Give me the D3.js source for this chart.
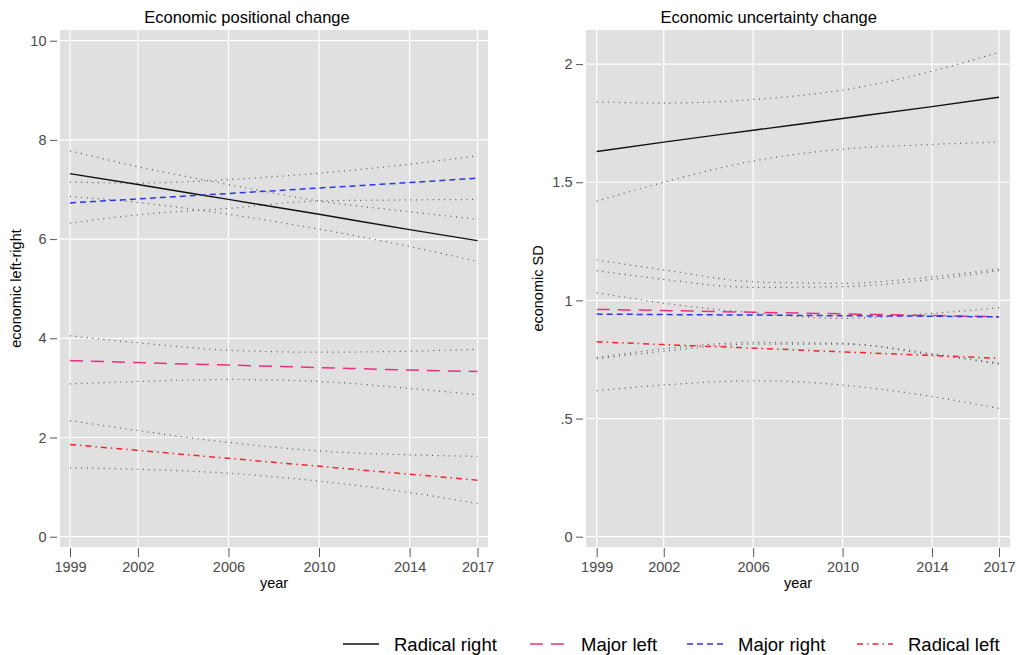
<!DOCTYPE html>
<html>
<head>
<meta charset="utf-8">
<script src="https://cdn.jsdelivr.net/npm/d3@7/dist/d3.min.js"></script>
<style>
  body { margin: 0; background: #fff; }
  svg text { font-family: "Liberation Sans", Arial, Helvetica, sans-serif; }
</style>
</head>
<body>
<script>
// survey years (x) and tick labels
var years = [1999, 2002, 2006, 2010, 2014, 2017];
var xTicks = [1999, 2002, 2006, 2010, 2014, 2017];

// left panel: economic left-right position, fit + CI bounds
var posRadRight   = [7.32, 7.10, 6.80, 6.50, 6.19, 5.97];
var posRadRightHi = [7.78, 7.46, 7.10, 6.77, 6.55, 6.40];
var posRadRightLo = [6.86, 6.74, 6.50, 6.20, 5.85, 5.55];
var posMajLeft    = [3.55, 3.51, 3.46, 3.41, 3.36, 3.33];
var posMajLeftHi  = [4.05, 3.91, 3.76, 3.72, 3.74, 3.78];
var posMajLeftLo  = [3.08, 3.13, 3.17, 3.13, 2.99, 2.86];
var posMajRight   = [6.73, 6.81, 6.92, 7.03, 7.14, 7.23];
var posMajRightHi = [7.15, 7.13, 7.20, 7.33, 7.51, 7.68];
var posMajRightLo = [6.32, 6.49, 6.62, 6.77, 6.79, 6.80];
var posRadLeft    = [1.86, 1.74, 1.58, 1.42, 1.26, 1.14];
var posRadLeftHi  = [2.34, 2.14, 1.90, 1.73, 1.65, 1.62];
var posRadLeftLo  = [1.39, 1.36, 1.28, 1.12, 0.89, 0.67];
var posTicks = [0, 2, 4, 6, 8, 10];

// right panel: economic SD, fit + CI bounds
var sdRadRight   = [1.63, 1.67, 1.72, 1.77, 1.82, 1.86];
var sdRadRightHi = [1.84, 1.835, 1.85, 1.89, 1.97, 2.05];
var sdRadRightLo = [1.42, 1.50, 1.59, 1.64, 1.66, 1.67];
var sdMajLeft    = [0.962, 0.957, 0.950, 0.943, 0.936, 0.931];
var sdMajLeftHi  = [1.171, 1.129, 1.079, 1.072, 1.100, 1.133];
var sdMajLeftLo  = [0.753, 0.785, 0.815, 0.815, 0.775, 0.730];
var sdMajRight   = [0.942, 0.940, 0.938, 0.935, 0.933, 0.930];
var sdMajRightHi = [1.126, 1.089, 1.055, 1.058, 1.089, 1.126];
var sdMajRightLo = [0.758, 0.795, 0.822, 0.818, 0.770, 0.735];
var sdRadLeft    = [0.825, 0.813, 0.798, 0.782, 0.767, 0.755];
var sdRadLeftHi  = [1.033, 0.988, 0.948, 0.924, 0.945, 0.969];
var sdRadLeftLo  = [0.618, 0.642, 0.660, 0.642, 0.593, 0.543];
var sdTicks = [0, 0.5, 1, 1.5, 2];
var sdTickLabels = ["0", ".5", "1", "1.5", "2"];

var groups = ["Radical right", "Major left", "Major right", "Radical left"];

var styles = {
    "Radical right": {color: "#111111", dash: null, width: 1.4},
    "Major left":    {color: "#ec2f7d", dash: "13,8", width: 1.5},
    "Major right":   {color: "#2c36e6", dash: "6,4", width: 1.5},
    "Radical left":  {color: "#ee2730", dash: "6,4,1.5,4", width: 1.5}
};

var W = 1016, H = 655;
var svg = d3.select("body").append("svg")
    .attr("width", W)
    .attr("height", H);

function translate(x, y) {
    return "translate(" + x + "," + y + ")";
}

function drawPanel(p) {
    var x = d3.scaleLinear().domain([1999, 2017]).range([p.x1999, p.x2017]);
    var y = d3.scaleLinear().domain(p.yDomain).range(p.yRange);
    var g = svg.append("g");

    g.append("rect")
        .attr("x", p.left).attr("y", p.top)
        .attr("width", p.right - p.left).attr("height", p.bottom - p.top)
        .attr("fill", "#e0e0e0");

    // grid
    g.selectAll("line.vgrid").data(xTicks).enter().append("line")
        .attr("x1", function(d) { return x(d); })
        .attr("x2", function(d) { return x(d); })
        .attr("y1", p.top).attr("y2", p.bottom)
        .attr("stroke", "#fff").attr("stroke-width", 1.2);
    g.selectAll("line.hgrid").data(p.yTicks).enter().append("line")
        .attr("y1", function(d) { return y(d); })
        .attr("y2", function(d) { return y(d); })
        .attr("x1", p.left).attr("x2", p.right)
        .attr("stroke", "#fff").attr("stroke-width", 1.2);

    // axes
    var yAxis = d3.axisLeft(y).tickValues(p.yTicks).tickSize(7).tickSizeOuter(0).tickPadding(3.5)
        .tickFormat(function(d, i) { return p.yLabels[i]; });
    var ya = g.append("g").attr("transform", translate(p.left - 3, 0)).call(yAxis);
    ya.select(".domain").remove();

    var xAxis = d3.axisBottom(x).tickValues(xTicks).tickSize(9).tickSizeOuter(0).tickPadding(4.3)
        .tickFormat(d3.format("d"));
    var xa = g.append("g").attr("transform", translate(0, p.bottom + 1)).call(xAxis);
    xa.select(".domain").remove();

    [ya, xa].forEach(function(a) {
        a.selectAll("line").attr("stroke", "#555").attr("stroke-width", 1);
        a.selectAll("text").attr("fill", "#4a4a4a").style("font-size", "14.5px");
    });

    var line = d3.line()
        .x(function(d, i) { return x(years[i]); })
        .y(function(d) { return y(d); })
        .curve(d3.curveMonotoneX);

    // CI bands as dotted lines
    p.ci.forEach(function(s) {
        g.append("path")
            .attr("d", line(s))
            .attr("fill", "none")
            .attr("stroke", "#505050")
            .attr("stroke-width", 1.2)
            .attr("stroke-dasharray", "1,4.6");
    });

    p.fits.forEach(function(f) {
        var st = styles[f.name];
        g.append("path")
            .attr("d", line(f.values))
            .attr("fill", "none")
            .attr("stroke", st.color)
            .attr("stroke-width", st.width)
            .attr("stroke-dasharray", st.dash);
    });

    g.append("text")
        .attr("x", p.titleX).attr("y", 22.5)
        .attr("text-anchor", "middle")
        .style("font-size", "16.5px")
        .attr("fill", "#000")
        .text(p.title);

    g.append("text")
        .attr("x", (p.left + p.right) / 2).attr("y", 588)
        .attr("text-anchor", "middle")
        .style("font-size", "14.5px")
        .attr("fill", "#000")
        .text("year");

    g.append("text")
        .attr("transform", translate(p.yLabelX, (p.top + p.bottom) / 2) + " rotate(-90)")
        .attr("text-anchor", "middle")
        .style("font-size", "14.5px")
        .attr("fill", "#000")
        .text(p.yLabel);
}

drawPanel({
    left: 60, right: 488, top: 30, bottom: 547,
    x1999: 70, x2017: 477.5,
    yDomain: [0, 10], yRange: [536.7, 40.7],
    yTicks: posTicks, yLabels: posTicks.map(String),
    title: "Economic positional change", titleX: 247,
    yLabel: "economic left-right", yLabelX: 21,
    ci: [posRadRightHi, posRadRightLo, posMajRightHi, posMajRightLo,
         posMajLeftHi, posMajLeftLo, posRadLeftHi, posRadLeftLo],
    fits: [
        {name: "Radical right", values: posRadRight},
        {name: "Major left", values: posMajLeft},
        {name: "Major right", values: posMajRight},
        {name: "Radical left", values: posRadLeft}
    ]
});

drawPanel({
    left: 586, right: 1010, top: 30, bottom: 547,
    x1999: 596.7, x2017: 999,
    yDomain: [0, 2], yRange: [536.7, 64.1],
    yTicks: sdTicks, yLabels: sdTickLabels,
    title: "Economic uncertainty change", titleX: 768.7,
    yLabel: "economic SD", yLabelX: 543,
    ci: [sdRadRightHi, sdRadRightLo, sdMajLeftHi, sdMajLeftLo,
         sdMajRightHi, sdMajRightLo, sdRadLeftHi, sdRadLeftLo],
    fits: [
        {name: "Radical right", values: sdRadRight},
        {name: "Major left", values: sdMajLeft},
        {name: "Major right", values: sdMajRight},
        {name: "Radical left", values: sdRadLeft}
    ]
});

// legend
var legendX = [343, 530, 687, 857];
var legend = svg.append("g");
groups.forEach(function(name, i) {
    var st = styles[name];
    var lx = legendX[i];
    legend.append("line")
        .attr("x1", lx).attr("x2", lx + 36)
        .attr("y1", 644).attr("y2", 644)
        .attr("stroke", st.color)
        .attr("stroke-width", st.width)
        .attr("stroke-dasharray", st.dash);
    legend.append("text")
        .attr("x", lx + 51).attr("y", 650.5)
        .style("font-size", "18.5px")
        .attr("fill", "#000")
        .text(name);
});
</script>
</body>
</html>
